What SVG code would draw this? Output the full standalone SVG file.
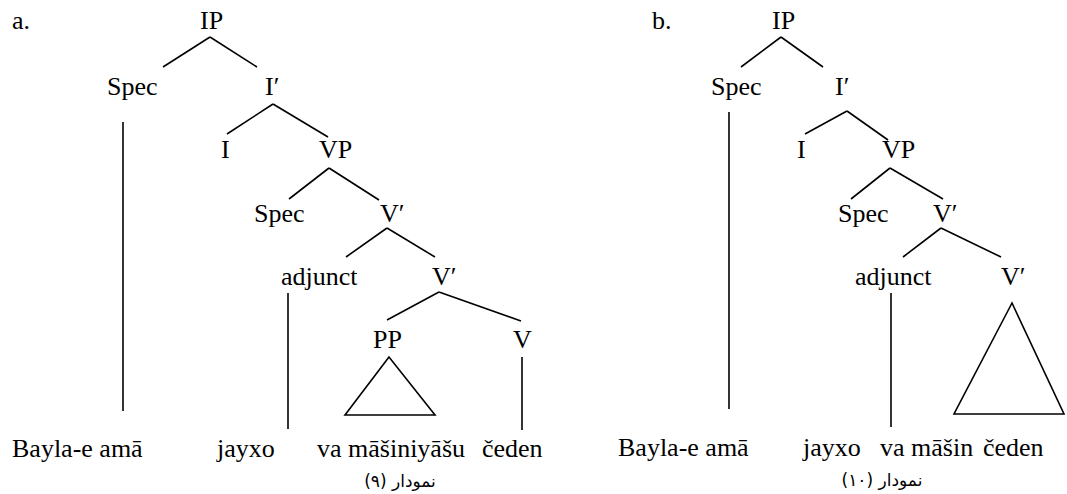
<svg xmlns="http://www.w3.org/2000/svg" width="1067" height="494" viewBox="0 0 1067 494">
<style>
.t{font-family:'Liberation Serif','Times New Roman',serif;font-size:26px;fill:#000}
.cap{font-family:'DejaVu Sans','Noto Sans',sans-serif;font-size:17px;direction:rtl;text-anchor:middle;fill:#000}
line,polygon{stroke:#000;stroke-width:1.6;fill:none}
</style>
<rect width="1067" height="494" fill="#fff"/>
<g id="treeA">
<text class="t" x="12" y="29">a.</text>
<g id="a-IP"><text class="t" x="200" y="29">IP</text></g>
<g id="a-Spec1"><text class="t" x="107" y="95">Spec</text></g>
<g id="a-Ibar"><text class="t" x="265" y="95">I′</text></g>
<g id="a-I"><text class="t" x="221" y="158">I</text></g>
<g id="a-VP"><text class="t" x="319" y="158">VP</text></g>
<g id="a-Spec2"><text class="t" x="254" y="222">Spec</text></g>
<g id="a-Vbar1"><text class="t" x="380" y="222">V′</text></g>
<g id="a-adjunct"><text class="t" x="281" y="285">adjunct</text></g>
<g id="a-Vbar2"><text class="t" x="432" y="285">V′</text></g>
<g id="a-PP"><text class="t" x="373" y="348">PP</text><polygon points="389,357 345,415 435,415"/></g>
<g id="a-V"><text class="t" x="513" y="348">V</text></g>
<g id="a-leaf1"><text class="t" x="12" y="457">Bayla-e amā</text></g>
<g id="a-leaf2"><text class="t" x="217" y="457">jayxo</text></g>
<g id="a-leaf3"><text class="t" x="317" y="457">va māšiniyāšu</text></g>
<g id="a-leaf4"><text class="t" x="482" y="457">čeden</text></g>
<g id="a-caption"><text class="cap" x="400" y="487">نمودار (۹)</text></g>
</g>
<g id="treeB">
<text class="t" x="652" y="29">b.</text>
<g id="b-IP"><text class="t" x="772" y="29">IP</text></g>
<g id="b-Spec1"><text class="t" x="711" y="95">Spec</text></g>
<g id="b-Ibar"><text class="t" x="835" y="95">I′</text></g>
<g id="b-I"><text class="t" x="797" y="158">I</text></g>
<g id="b-VP"><text class="t" x="882" y="158">VP</text></g>
<g id="b-Spec2"><text class="t" x="838" y="222">Spec</text></g>
<g id="b-Vbar1"><text class="t" x="933" y="222">V′</text></g>
<g id="b-adjunct"><text class="t" x="855" y="285">adjunct</text></g>
<g id="b-Vbar2"><text class="t" x="1001" y="285">V′</text><polygon points="1012,303 954,414 1064,414"/></g>
<g id="b-leaf1"><text class="t" x="618" y="456">Bayla-e amā</text></g>
<g id="b-leaf2"><text class="t" x="803" y="456">jayxo</text></g>
<g id="b-leaf3"><text class="t" x="880" y="456">va māšin</text></g>
<g id="b-leaf4"><text class="t" x="983" y="456">čeden</text></g>
<g id="b-caption"><text class="cap" x="882" y="486">نمودار (۱۰)</text></g>
</g>
<g id="connectors">
<line x1="210" y1="37" x2="163" y2="67"/>
<line x1="210" y1="37" x2="257" y2="67"/>
<line x1="273" y1="104" x2="227" y2="134"/>
<line x1="273" y1="104" x2="328" y2="137"/>
<line x1="329" y1="168" x2="289" y2="199"/>
<line x1="329" y1="168" x2="379" y2="200"/>
<line x1="387" y1="228" x2="346" y2="257"/>
<line x1="387" y1="228" x2="435" y2="257"/>
<line x1="439" y1="292" x2="387" y2="320"/>
<line x1="439" y1="292" x2="521" y2="321"/>
<line x1="123" y1="122" x2="123" y2="411"/>
<line x1="288" y1="293" x2="288" y2="429"/>
<line x1="522" y1="357" x2="522" y2="430"/>
<line x1="781" y1="37" x2="741" y2="67"/>
<line x1="781" y1="37" x2="823" y2="67"/>
<line x1="847" y1="111" x2="805" y2="134"/>
<line x1="847" y1="111" x2="888" y2="140"/>
<line x1="890" y1="168" x2="851" y2="199"/>
<line x1="890" y1="168" x2="943" y2="199"/>
<line x1="941" y1="228" x2="903" y2="257"/>
<line x1="941" y1="228" x2="1001" y2="257"/>
<line x1="729" y1="112" x2="729" y2="409"/>
<line x1="891" y1="293" x2="891" y2="427"/>
</g>
</svg>
